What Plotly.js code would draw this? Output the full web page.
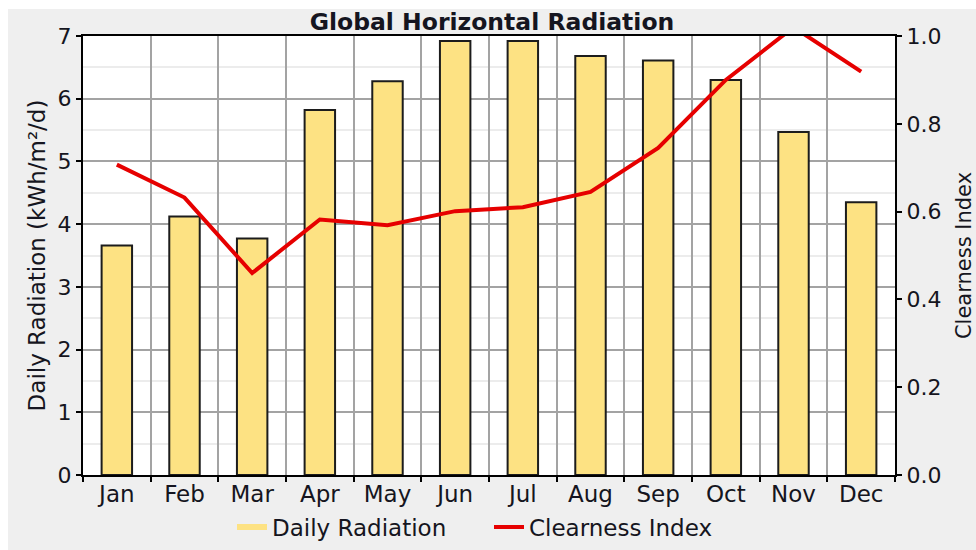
<!DOCTYPE html>
<html>
<head>
<meta charset="utf-8">
<script src="https://cdn.plot.ly/plotly-3.0.1.min.js"></script>
<style>
  html, body { margin: 0; padding: 0; background: #ffffff; }
  #chart { position: absolute; left: 8px; top: 9px; width: 968px; height: 541px; }
</style>
</head>
<body>
<div id="chart"></div>
<script>
const months = ["Jan", "Feb", "Mar", "Apr", "May", "Jun", "Jul", "Aug", "Sep", "Oct", "Nov", "Dec"];
const dailyRadiation = [3.66, 4.12, 3.77, 5.82, 6.28, 6.92, 6.92, 6.68, 6.61, 6.30, 5.47, 4.35];
const clearnessIndex = [0.707, 0.632, 0.460, 0.582, 0.569, 0.601, 0.610, 0.645, 0.745, 0.900, 1.020, 0.919];

const FONT = "DejaVu Sans, Verdana, sans-serif";
const TXT = "#151520";

const traces = [
  {
    type: "bar",
    x: months,
    y: dailyRadiation,
    width: 0.45,
    marker: { color: "#fde283", line: { color: "#1c1c1c", width: 2 } },
    name: "Daily Radiation",
    showlegend: false,
    hoverinfo: "x+y"
  },
  {
    type: "scatter",
    mode: "lines",
    x: [null],
    y: [null],
    name: "Daily Radiation",
    line: { color: "#fde283", width: 6 },
    hoverinfo: "skip"
  },
  {
    type: "scatter",
    mode: "lines",
    x: months,
    y: clearnessIndex,
    yaxis: "y2",
    name: "Clearness Index",
    line: { color: "#e60000", width: 4 }
  }
];

const layout = {
  width: 968,
  height: 541,
  paper_bgcolor: "#efefef",
  plot_bgcolor: "#ffffff",
  margin: { l: 75, r: 81, t: 27, b: 75, autoexpand: false },
  font: { family: FONT, color: TXT, size: 22 },
  title: {
    text: "<b>Global Horizontal Radiation</b>",
    font: { family: FONT, size: 23.5, color: TXT },
    x: 0.5, xanchor: "center",
    y: 0.976, yanchor: "middle", yref: "container"
  },
  xaxis: {
    type: "category",
    tickson: "boundaries",
    showgrid: true,
    gridcolor: "#a3a3a3",
    gridwidth: 2,
    ticks: "outside",
    ticklen: 5,
    tickwidth: 2,
    tickcolor: "#000000",
    showline: true,
    linecolor: "#000000",
    linewidth: 2,
    mirror: true,
    tickfont: { size: 23, color: TXT },
    ticklabelstandoff: -3,
    zeroline: false
  },
  yaxis: {
    range: [0, 7],
    dtick: 1,
    showgrid: true,
    gridcolor: "#a3a3a3",
    gridwidth: 2,
    minor: { dtick: 0.5, showgrid: true, gridcolor: "#ececec", gridwidth: 2 },
    ticks: "outside",
    ticklen: 5,
    tickwidth: 2,
    tickcolor: "#000000",
    showline: true,
    linecolor: "#000000",
    linewidth: 2,
    zeroline: false,
    tickfont: { size: 22, color: TXT },
    title: { text: "Daily Radiation (kWh/m²/d)", font: { size: 23, color: TXT }, standoff: 6 }
  },
  yaxis2: {
    overlaying: "y",
    side: "right",
    range: [0, 1],
    dtick: 0.2,
    tickformat: ".1f",
    showgrid: false,
    ticks: "outside",
    ticklen: 5,
    tickwidth: 2,
    tickcolor: "#000000",
    showline: true,
    linecolor: "#000000",
    linewidth: 2,
    zeroline: false,
    tickfont: { size: 22, color: TXT },
    title: { text: "Clearness Index", font: { size: 21, color: TXT }, standoff: 16 }
  },
  legend: {
    orientation: "h",
    x: 0.5, xanchor: "center",
    y: 0.0425, yanchor: "middle", yref: "container",
    bgcolor: "rgba(0,0,0,0)",
    font: { size: 23, color: TXT },
    entrywidth: 212,
    entrywidthmode: "pixels"
  },
  showlegend: true,
  bargap: 0.55
};

Plotly.newPlot("chart", traces, layout, { displayModeBar: false, responsive: false });
</script>
</body>
</html>
